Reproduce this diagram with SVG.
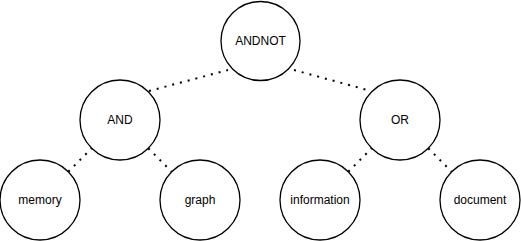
<svg xmlns="http://www.w3.org/2000/svg" width="521" height="241" viewBox="0 0 521 241">
  <style>
    .node circle { fill: #ffffff; stroke: #000000; stroke-width: 1.3; }
    .node text { font-family: "Liberation Sans", Arial, sans-serif; font-size: 12px; fill: #000000; text-anchor: middle; dominant-baseline: central; }
    .edge { stroke: #000000; stroke-width: 2; stroke-dasharray: 2 6; fill: none; }
  </style>
  <rect width="521" height="241" fill="#ffffff"/>
  <g id="connectors">
    <line class="edge" x1="149" y1="91" x2="228" y2="70"/>
    <line class="edge" x1="294" y1="70" x2="371" y2="91"/>
    <line class="edge" x1="68.3" y1="171.7" x2="91.7" y2="148.3"/>
    <line class="edge" x1="148.3" y1="148.3" x2="171.7" y2="171.7"/>
    <line class="edge" x1="348.3" y1="171.7" x2="371.7" y2="148.3"/>
    <line class="edge" x1="428.3" y1="148.3" x2="451.7" y2="171.7"/>
  </g>
  <g id="andnot" class="node"><circle cx="260.5" cy="41" r="39.5"/><text x="260.5" y="41">ANDNOT</text></g>
  <g id="and" class="node"><circle cx="120" cy="120" r="40"/><text x="120" y="120">AND</text></g>
  <g id="or" class="node"><circle cx="400" cy="120" r="40"/><text x="400" y="120">OR</text></g>
  <g id="memory" class="node"><circle cx="40" cy="200" r="40"/><text x="40" y="200">memory</text></g>
  <g id="graph" class="node"><circle cx="200" cy="200" r="40"/><text x="200" y="200">graph</text></g>
  <g id="information" class="node"><circle cx="320" cy="200" r="40"/><text x="320" y="200">information</text></g>
  <g id="document" class="node"><circle cx="480" cy="200" r="40"/><text x="480" y="200">document</text></g>
</svg>
